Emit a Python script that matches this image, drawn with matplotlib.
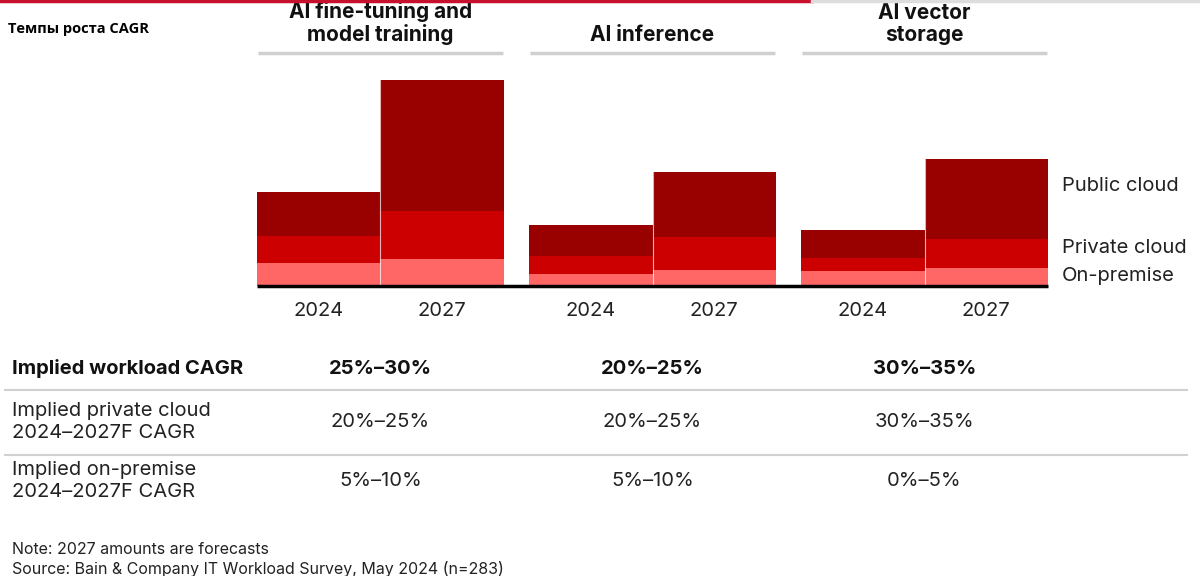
import numpy as np
import matplotlib.pyplot as plt
from matplotlib.lines import Line2D

plt.rcParams['font.family'] = ['Inter', 'DejaVu Sans']

# Data (heights, arbitrary units)
groups = ["AI fine-tuning and\nmodel training", "AI inference", "AI vector\nstorage"]
years = ["2024", "2027"]
on_premise = [[23, 27], [12, 16], [15, 18]]
private_cloud = [[27, 48], [18, 33], [13, 29]]
public_cloud = [[44, 131], [31, 65], [28, 80]]
series_names = ["Public cloud", "Private cloud", "On-premise"]

row_labels = ["Implied workload CAGR",
              "Implied private cloud\n2024\u20132027F CAGR",
              "Implied on-premise\n2024\u20132027F CAGR"]
workload_cagr = ["25%\u201330%", "20%\u201325%", "30%\u201335%"]
private_cagr = ["20%\u201325%", "20%\u201325%", "30%\u201335%"]
onprem_cagr = ["5%\u201310%", "5%\u201310%", "0%\u20135%"]

C_PUB = "#990000"
C_PRIV = "#cc0000"
C_ONP = "#ff6666"
GREY = "#d0d0d0"

W, H = 1200, 576
fig = plt.figure(figsize=(W / 100, H / 100), dpi=100)


def px(x, y):
    return x / W, 1 - y / H


# bar axes: baseline at y=286px, left 257px, 1px = 1 unit vertically
bw = 0.454
ax = fig.add_axes([257 / W, (H - 286) / H, 791 / W, 226 / H])
ax.set_xlim(0, 2 + 2 * bw)
ax.set_ylim(0, 226)
ax.axis("off")

for g in range(3):
    for j in range(2):
        x = g + j * bw
        a = on_premise[g][j]
        b = private_cloud[g][j]
        c = public_cloud[g][j]
        ax.bar(x, a, width=bw, align="edge", color=C_ONP, linewidth=0)
        ax.bar(x, b, bottom=a, width=bw, align="edge", color=C_PRIV, linewidth=0)
        ax.bar(x, c, bottom=a + b, width=bw, align="edge", color=C_PUB, linewidth=0)
        ax.text(x + bw / 2, -25, years[j], ha="center", va="center", fontsize=14.5,
                color="#222222", clip_on=False)
    # thin separator between the two bars of a group
    sep = max(on_premise[g][1] + private_cloud[g][1] + public_cloud[g][1],
              on_premise[g][0] + private_cloud[g][0] + public_cloud[g][0])
    ax.plot([g + bw, g + bw], [0, sep], color="#ffffff", lw=0.8, alpha=0.7)
    # header line and title
    ax.plot([g + 0.005, g + 2 * bw - 0.005], [233, 233], color=GREY, lw=2.5,
            clip_on=False, solid_capstyle="butt")
    ax.text(g + bw, 241, groups[g], ha="center", va="bottom", fontsize=15,
            fontweight="bold", color="#111111", linespacing=1.1, clip_on=False)

ax.plot([0, 2 + 2 * bw], [0, 0], color="black", lw=2.5, clip_on=False,
        solid_capstyle="butt")

# legend labels at the right of the last bar
lx = 2 + 2 * bw + 0.05
for name, ly in zip(series_names, [100, 38, 10]):
    ax.text(lx, ly, name, va="center", fontsize=14.5, color="#222222", clip_on=False)

# top rule
fig.add_artist(Line2D([0, 812 / W], [1 - 1 / H, 1 - 1 / H], color="#c8102e", lw=2.5))
fig.add_artist(Line2D([812 / W, 1], [1 - 1 / H, 1 - 1 / H], color="#dddddd", lw=2.5))

fig.text(*px(8, 29), "Темпы роста CAGR", fontsize=10.5, fontweight="bold",
         family=["Open Sans", "DejaVu Sans"], va="center", color="black")

# table
centers = [380.5, 652.5, 924.5]
fig.text(*px(12, 369), row_labels[0], fontsize=14.5, fontweight="bold", va="center", color="#111111")
fig.text(*px(12, 422), row_labels[1], fontsize=14.5, va="center", color="#222222", linespacing=1.3)
fig.text(*px(12, 481), row_labels[2], fontsize=14.5, va="center", color="#222222", linespacing=1.3)
for i, cx in enumerate(centers):
    fig.text(*px(cx, 369), workload_cagr[i], fontsize=14.5, fontweight="bold", ha="center", va="center", color="#111111")
    fig.text(*px(cx, 422), private_cagr[i], fontsize=14.5, ha="center", va="center", color="#222222")
    fig.text(*px(cx, 481), onprem_cagr[i], fontsize=14.5, ha="center", va="center", color="#222222")
for ly in [390, 455]:
    fig.add_artist(Line2D([5 / W, 1187 / W], [1 - ly / H, 1 - ly / H], color=GREY, lw=1.5))

fig.text(*px(12, 549), "Note: 2027 amounts are forecasts", fontsize=11.5, va="center", color="#222222")
fig.text(*px(12, 569), "Source: Bain & Company IT Workload Survey, May 2024 (n=283)", fontsize=11.5,
         va="center", color="#222222")

fig.savefig("out.png", dpi=100)
